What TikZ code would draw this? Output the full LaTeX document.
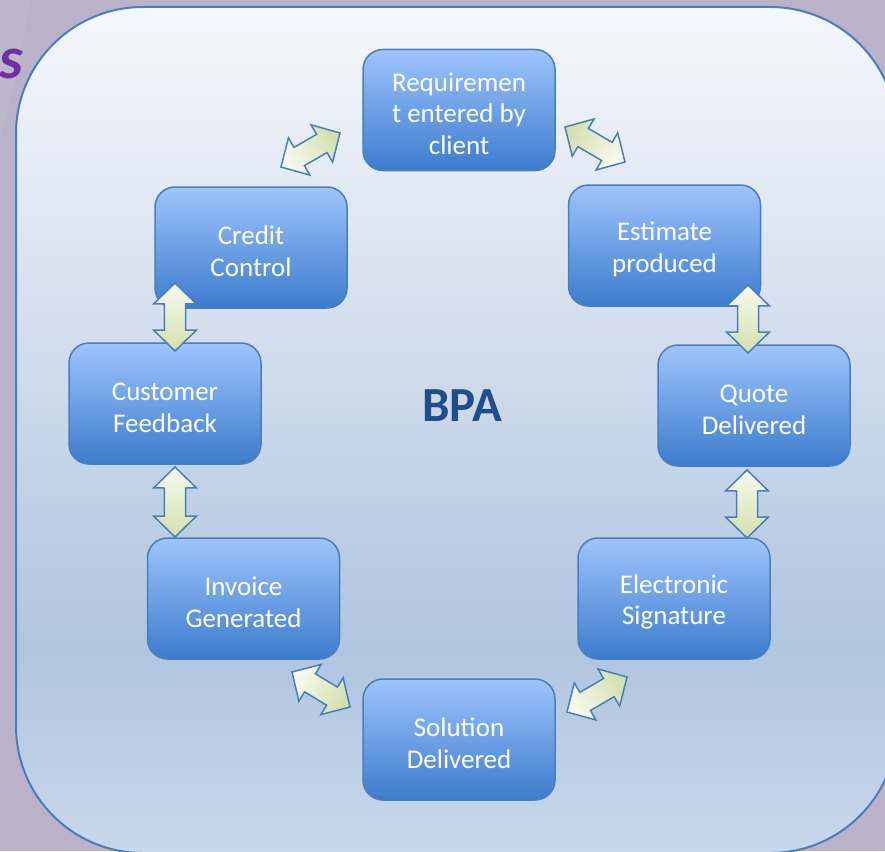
\documentclass[tikz,border=0pt]{standalone}
\usepackage{fontspec}
\setmainfont{Carlito}
\usetikzlibrary{calc}

\definecolor{bgout}{RGB}{185,178,200}
\definecolor{paneltop}{RGB}{245,248,252}
\definecolor{panelmid}{RGB}{176,197,224}
\definecolor{panelbot}{RGB}{200,216,236}
\definecolor{boxline}{RGB}{74,126,187}
\definecolor{boxtop}{RGB}{158,196,252}
\definecolor{boxbot}{RGB}{60,124,205}
\definecolor{arrlight}{RGB}{247,250,240}
\definecolor{arrgreen}{RGB}{210,224,172}
\definecolor{bpablue}{RGB}{31,78,138}
\definecolor{spurple}{RGB}{112,48,160}

\pgfdeclareverticalshading{panelshade}{100bp}{color(0bp)=(panelbot); color(25bp)=(panelbot);
	color(37bp)=(panelmid); color(75bp)=(paneltop); color(100bp)=(paneltop)}

\newcommand{\hd}{\rule{0pt}{26pt}}

\tikzset{
	stepbox/.style={draw=boxline, line width=1.5pt, rounded corners=20pt,
		top color=boxtop, bottom color=boxbot, minimum width=192pt, minimum height=121pt,
		text=white, align=center, inner sep=0pt, font=\fontsize{27}{31.5}\selectfont},
	flowarr/.style={draw=boxline, line width=1.5pt, line join=miter,
		top color=arrlight, bottom color=arrgreen},
}

% block arrow: shading angle, light end, other end
\newcommand{\bparrow}[3]{
	\draw[flowarr, shading angle=#1] (#2) -- ($(#2)!30.05pt!45.7:(#3)$) -- ($(#2)!23.48pt!26.6:(#3)$)
		-- ($(#3)!23.48pt!-26.6:(#2)$) -- ($(#3)!30.05pt!-45.7:(#2)$) -- (#3)
		-- ($(#3)!30.05pt!45.7:(#2)$) -- ($(#3)!23.48pt!26.6:(#2)$)
		-- ($(#2)!23.48pt!-26.6:(#3)$) -- ($(#2)!30.05pt!-45.7:(#3)$) -- cycle;
}

\begin{document}
\begin{tikzpicture}[x=1pt, y=-1pt]
	\useasboundingbox (0,0) rectangle (885,851);
	\clip (0,0) rectangle (885,851);
	\fill[bgout] (0,0) rectangle (885,851);
	\fill[white, opacity=0.07] (0,0) -- (30,0) .. controls (22,50) and (12,100) .. (0,135) -- cycle;
	\node[anchor=base east, inner sep=0pt, text=spurple, font=\fontsize{60}{60}\selectfont\bfseries\itshape] (s) at (23,78) {s};

	\shade[shading=panelshade, draw=boxline, line width=2pt, rounded corners=127pt] (16,7) rectangle (897,853);

	\node[stepbox] (req) at (459,110) {\hd Requiremen\\t entered by\\client};
	\node[stepbox] (est) at (664.5,245.5) {\hd Estimate\\produced};
	\node[stepbox] (quote) at (754,405.5) {\hd Quote\\Delivered};
	\node[stepbox] (esig) at (674,598.5) {\hd Electronic\\Signature};
	\node[stepbox] (sol) at (459,739.5) {\hd Solution\\Delivered};
	\node[stepbox] (inv) at (243.5,598.5) {\hd Invoice\\Generated};
	\node[stepbox] (cust) at (165,403.5) {\hd Customer\\Feedback};
	\node[stepbox] (cred) at (251,247.5) {\hd Credit\\Control};
	\node[text=bpablue, font=\fontsize{49}{49}\selectfont\bfseries] (bpa) at (462,406) {BPA};

	\coordinate (rc1) at (281,167);
	\coordinate (rc2) at (340,133);
	\coordinate (re1) at (625,162);
	\coordinate (re2) at (565,127);
	\coordinate (eq1) at (748,285);
	\coordinate (eq2) at (748,353);
	\coordinate (qe1) at (747,470);
	\coordinate (qe2) at (747,538);
	\coordinate (cc1) at (175,283);
	\coordinate (cc2) at (175,351);
	\coordinate (ci1) at (175,467);
	\coordinate (ci2) at (175,537);
	\coordinate (is1) at (292,672);
	\coordinate (is2) at (350,707);
	\coordinate (se1) at (567,712);
	\coordinate (se2) at (627,677);

	\bparrow{120}{rc1}{rc2}
	\bparrow{-120}{re1}{re2}
	\bparrow{0}{eq1}{eq2}
	\bparrow{0}{qe1}{qe2}
	\bparrow{0}{cc1}{cc2}
	\bparrow{0}{ci1}{ci2}
	\bparrow{59}{is1}{is2}
	\bparrow{120}{se1}{se2}
\end{tikzpicture}
\end{document}
